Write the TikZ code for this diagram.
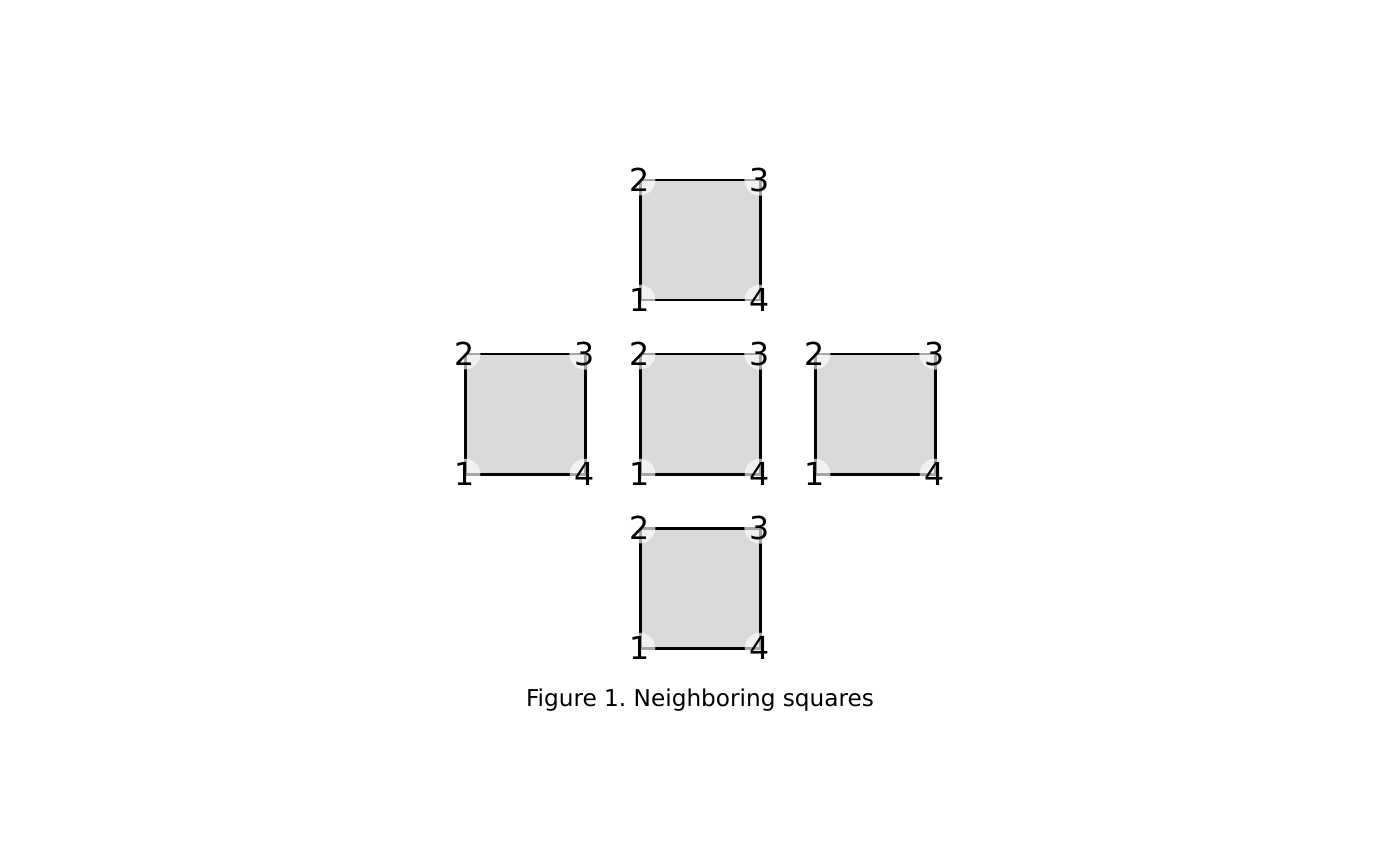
\documentclass[tikz,border=0pt]{standalone}
\usepackage{fontspec}
\setmainfont{DejaVu Sans}
\usetikzlibrary{positioning}
\definecolor{cellgray}{HTML}{D9D9D9}
\tikzset{
    every picture/.style={line cap=round,line join=round},
    cell/.style={draw=black,fill=cellgray,line width=0.85pt,
      minimum size=12mm,inner sep=0pt,outer sep=0pt},
    cornerlabel/.style={circle,fill=white,fill opacity=0.65,text opacity=1,
      minimum size=2.5mm,inner sep=0pt,font=\fontsize{9}{9}\selectfont},
    figcaption/.style={font=\fontsize{6.6}{8}\selectfont}
}
\begin{document}
\begin{tikzpicture}[node distance=5.4mm]
  \useasboundingbox (0,0) rectangle (14,8.65);
  \node[cell] (mid) at (7.00,4.51) {};
  \node[cell,above=of mid] (top) {};
  \node[cell,below=of mid] (bot) {};
  \node[cell,left=5.5mm of mid] (left) {};
  \node[cell,right=5.5mm of mid] (right) {};
  \foreach \s in {top,left,mid,right,bot} {
    \foreach \a/\n in {south west/1,north west/2,north east/3,south east/4} {
      \node[cornerlabel] (\s\n) at (\s.\a) {\n};
    }
  }
  \node[figcaption] (caption) at (7.00,1.65) {\frenchspacing Figure 1. Neighboring squares};
\end{tikzpicture}
\end{document}
